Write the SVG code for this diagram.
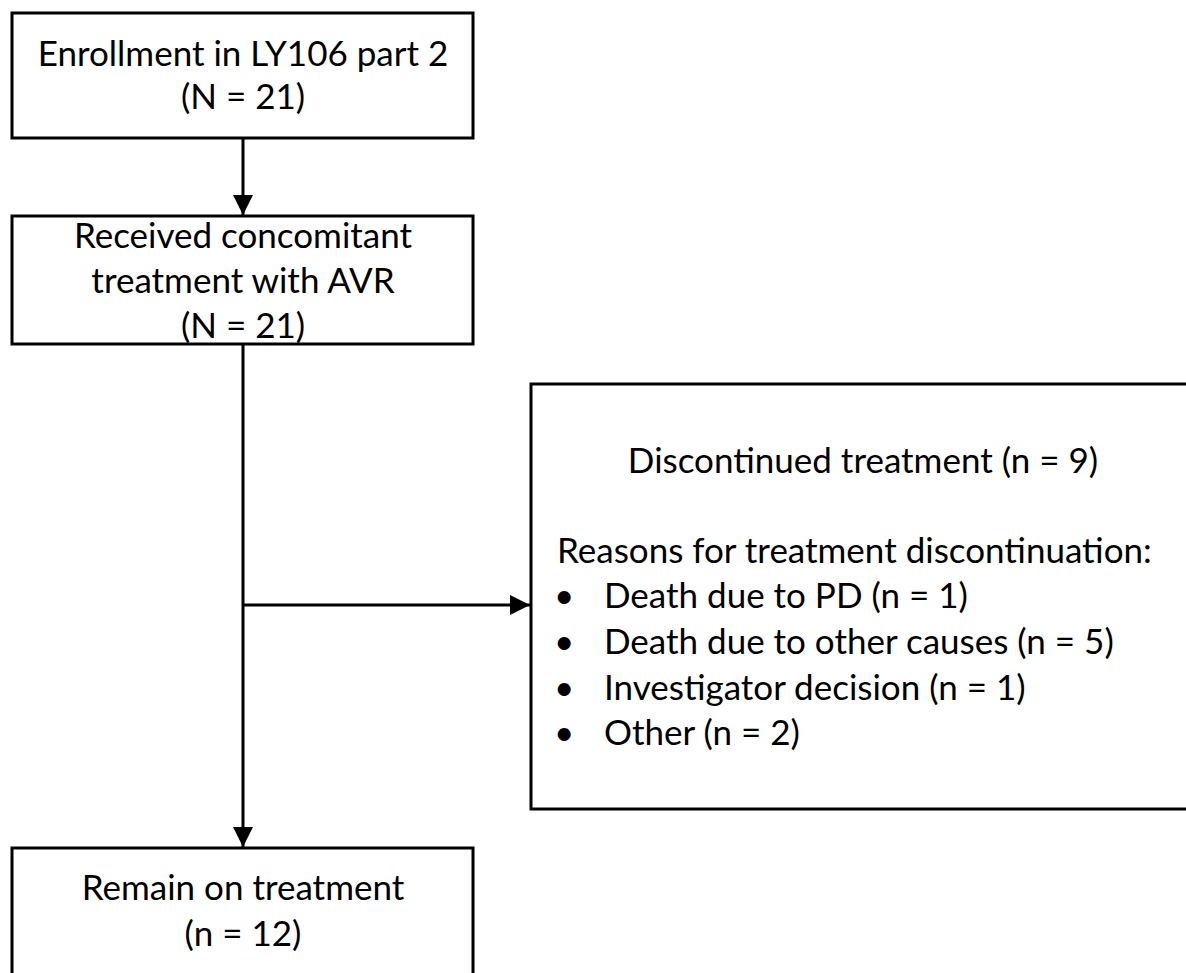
<svg xmlns="http://www.w3.org/2000/svg" width="1186" height="973" viewBox="0 0 1186 973">
<style>
.box{fill:#fff;stroke:#000;stroke-width:3}
.t{font-family:Lato,"Open Sans","Liberation Sans",sans-serif;font-size:35px;fill:#000}
.c{text-anchor:middle}
.edge{stroke:#000;stroke-width:3;fill:none}
</style>
<defs>
<marker id="ah" viewBox="0 0 20 20" refX="20" refY="10" markerWidth="20" markerHeight="20" markerUnits="userSpaceOnUse" orient="auto">
<path d="M0,0 L20,10 L0,20 Z" fill="#000"/>
</marker>
</defs>
<g id="connectors">
<line class="edge" x1="243" y1="139" x2="243" y2="215" marker-end="url(#ah)"/>
<line class="edge" x1="243" y1="345" x2="243" y2="847" marker-end="url(#ah)"/>
<line class="edge" x1="243" y1="605" x2="530" y2="605" marker-end="url(#ah)"/>
</g>
<g id="enrollment">
<rect class="box" x="12" y="13" width="461" height="125"/>
<text class="t c" x="243" y="66">Enrollment in LY106 part 2</text>
<text class="t c" x="243" y="109">(N = 21)</text>
</g>
<g id="received">
<rect class="box" x="12" y="216" width="461" height="128"/>
<text class="t c" x="243" y="248">Received concomitant</text>
<text class="t c" x="243" y="293">treatment with AVR</text>
<text class="t c" x="243" y="338">(N = 21)</text>
</g>
<g id="discontinued">
<rect class="box" x="531" y="384" width="670" height="425"/>
<text class="t c" x="863" y="473">Discontinued treatment (n = 9)</text>
<text class="t" x="557" y="563">Reasons for treatment discontinuation:</text>
<text class="t" x="554" y="608">•</text><text class="t" x="604" y="608">Death due to PD (n = 1)</text>
<text class="t" x="554" y="654">•</text><text class="t" x="604" y="654">Death due to other causes (n = 5)</text>
<text class="t" x="554" y="700">•</text><text class="t" x="604" y="700">Investigator decision (n = 1)</text>
<text class="t" x="554" y="745">•</text><text class="t" x="604" y="745">Other (n = 2)</text>
</g>
<g id="remain">
<rect class="box" x="12" y="848" width="461" height="140"/>
<text class="t c" x="243" y="900">Remain on treatment</text>
<text class="t c" x="243" y="946">(n = 12)</text>
</g>
</svg>
